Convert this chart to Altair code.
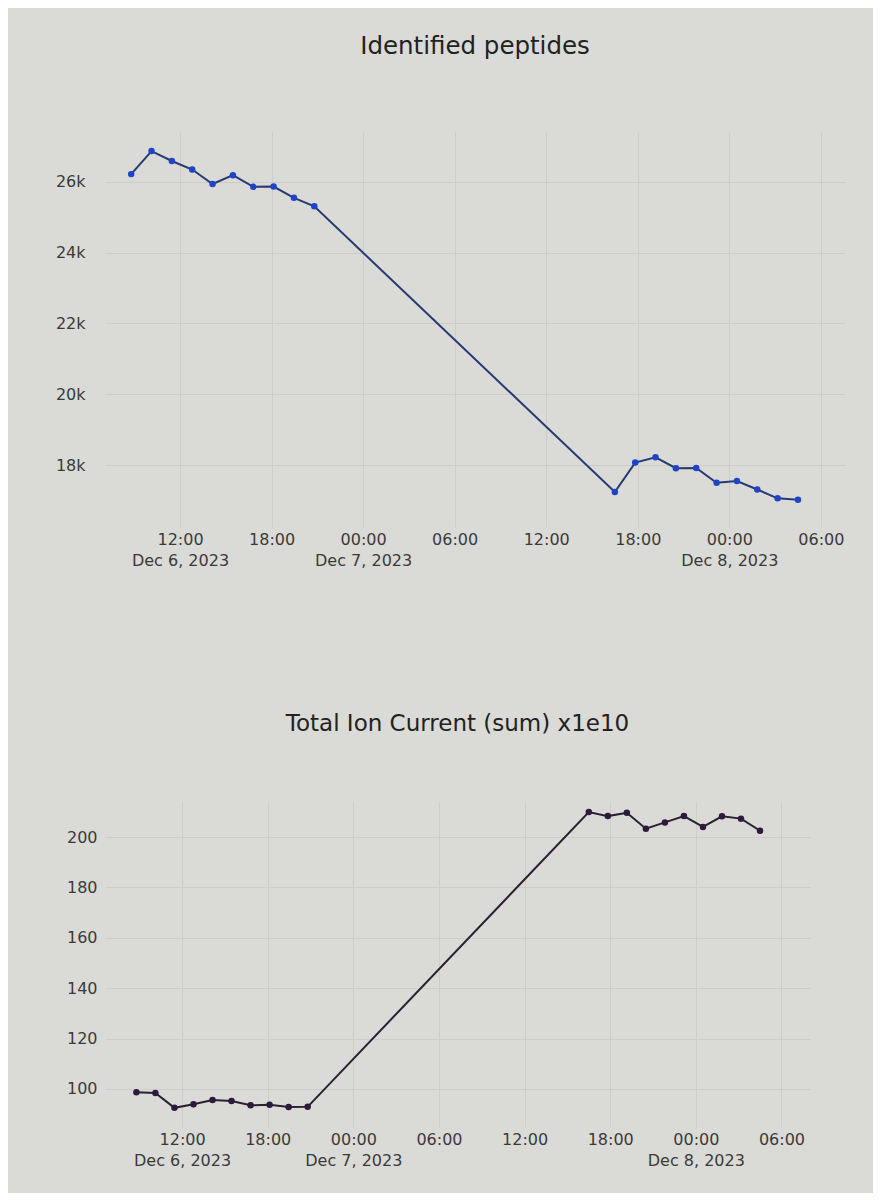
import altair as alt
import pandas as pd

# Acquisition times (two runs of ten samples)
times = [
    "2023-12-06T08:48:00", "2023-12-06T10:08:00", "2023-12-06T11:28:00",
    "2023-12-06T12:48:00", "2023-12-06T14:08:00", "2023-12-06T15:28:00",
    "2023-12-06T16:48:00", "2023-12-06T18:08:00", "2023-12-06T19:28:00",
    "2023-12-06T20:48:00",
    "2023-12-07T16:30:00", "2023-12-07T17:50:00", "2023-12-07T19:10:00",
    "2023-12-07T20:30:00", "2023-12-07T21:50:00", "2023-12-07T23:10:00",
    "2023-12-08T00:30:00", "2023-12-08T01:50:00", "2023-12-08T03:10:00",
    "2023-12-08T04:30:00",
]

peptides = [26220, 26870, 26590, 26350, 25940, 26190, 25860, 25870, 25550, 25310,
            17240, 18070, 18220, 17910, 17920, 17500, 17550, 17310, 17060, 17020]

tic = [98.7, 98.4, 92.5, 93.9, 95.6, 95.2, 93.5, 93.7, 92.8, 92.9,
       209.9, 208.3, 209.6, 203.3, 205.8, 208.3, 204.0, 208.2, 207.3, 202.5]

pep_ticks = [18000, 20000, 22000, 24000, 26000]
tic_ticks = [100, 120, 140, 160, 180, 200]

tick_times = [(6, 12), (6, 18), (7, 0), (7, 6), (7, 12), (7, 18), (8, 0), (8, 6)]

BG = "#dadad6"
GRID = "#cdcdc9"
FONT = "DejaVu Sans"

x_vals = [alt.DateTime(year=2023, month=12, date=d, hours=h) for d, h in tick_times]
label_expr = ("(datum.index == 0 || hours(datum.value) == 0) ? "
              "[timeFormat(datum.value, '%H:%M'), timeFormat(datum.value, '%b %-d, %Y')] : "
              "timeFormat(datum.value, '%H:%M')")


def x_axis():
    return alt.Axis(values=x_vals, labelExpr=label_expr, title=None, domain=False,
                    ticks=False, labelPadding=4, labelFontSize=16, labelFont=FONT,
                    labelColor="#3a3a3a", labelLineHeight=21, labelOverlap=False,
                    labelFlush=False, grid=True, gridColor=GRID, labelAlign="center")


def make_chart(df, title, tsize, toffset, width, height, xdom, ydom, yvals, yfmt,
               line_color, pt_color, lab_pad):
    x = alt.X("t:T", scale=alt.Scale(domain=xdom), axis=x_axis())
    y = alt.Y("v:Q", scale=alt.Scale(domain=ydom, zero=False, nice=False),
              axis=alt.Axis(values=yvals, format=yfmt, title=None, domain=False,
                            ticks=False, labelPadding=lab_pad, labelFontSize=16,
                            labelFont=FONT, labelColor="#3a3a3a", grid=True,
                            gridColor=GRID, minExtent=50))
    base = alt.Chart(df)
    line = base.mark_line(color=line_color, strokeWidth=2).encode(x=x, y=y)
    pts = base.mark_point(filled=True, color=pt_color, size=42, opacity=1).encode(x=x, y=y)
    return alt.layer(line, pts).properties(
        width=width, height=height,
        title=alt.TitleParams(title, fontSize=tsize, font=FONT, fontWeight="normal",
                              color="#222222", offset=toffset, anchor="middle"))


df_pep = pd.DataFrame({"t": times, "v": peptides})
df_tic = pd.DataFrame({"t": times, "v": tic})

top = make_chart(
    df_pep, "Identified peptides", 24.5, 73, 740, 395,
    [alt.DateTime(year=2023, month=12, date=6, hours=7, minutes=5),
     alt.DateTime(year=2023, month=12, date=8, hours=7, minutes=35)],
    [16250, 27410], pep_ticks, "~s", "#263a73", "#1f44c8", 20)

bottom = make_chart(
    df_tic, "Total Ion Current (sum) x1e10", 23, 66, 705, 325,
    [alt.DateTime(year=2023, month=12, date=6, hours=6, minutes=36),
     alt.DateTime(year=2023, month=12, date=8, hours=8, minutes=0)],
    [84.9, 213.9], tic_ticks, "d", "#2a2030", "#2d1a3d", 8)

chart = alt.vconcat(top, bottom, spacing=145).properties(
    background=BG,
    padding={"left": 47, "top": 25, "right": 28, "bottom": 25},
).configure_view(stroke=None)

chart.save("out.html", embed_options={"renderer": "svg", "actions": False})
